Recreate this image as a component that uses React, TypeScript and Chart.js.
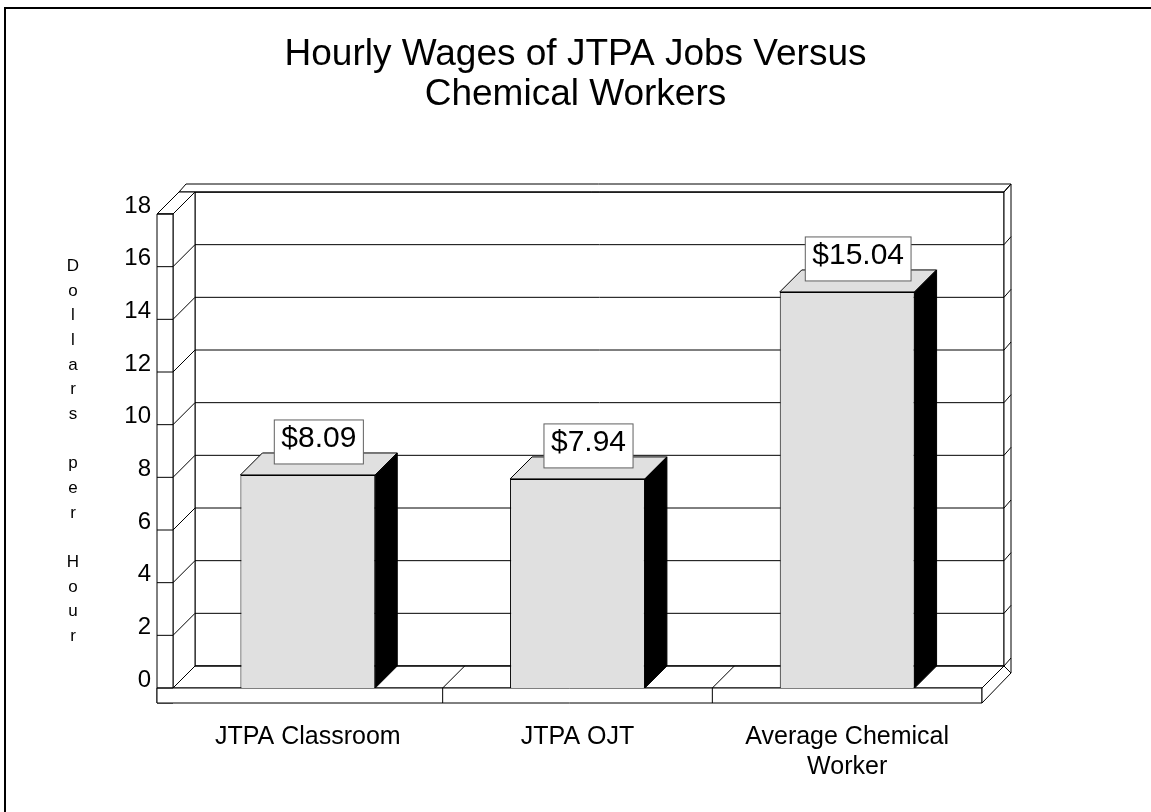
import React, { useEffect, useRef } from "react";
import { Chart, registerables } from "chart.js";

Chart.register(...registerables);

// ---- data ----
const titleLines = ["Hourly Wages of JTPA Jobs Versus", "Chemical Workers"];
const categories: (string | string[])[] = ["JTPA Classroom", "JTPA OJT", ["Average Chemical", "Worker"]];
const wages = [8.09, 7.94, 15.04];
const yTitle = "Dollars per Hour";
const yMin = 0;
const yMax = 18;
const yStep = 2;

// ---- style ----
const FONT = '"Liberation Sans", Arial, Helvetica, sans-serif';
const DEPTH = 22;
const CAP_X = 7;
const CAP_Y = 8;
const SLAB = 16;
const FLOOR = 15;
const BAR_FILL = "#e0e0e0";

type Pt = [number, number];

function poly(ctx: CanvasRenderingContext2D, pts: Pt[], fill?: string, stroke: string = "#000") {
  ctx.beginPath();
  ctx.moveTo(pts[0][0], pts[0][1]);
  for (let i = 1; i < pts.length; i++) ctx.lineTo(pts[i][0], pts[i][1]);
  ctx.closePath();
  if (fill) {
    ctx.fillStyle = fill;
    ctx.fill();
  }
  if (stroke) {
    ctx.strokeStyle = stroke;
    ctx.stroke();
  }
}

function line(ctx: CanvasRenderingContext2D, x1: number, y1: number, x2: number, y2: number) {
  ctx.beginPath();
  ctx.moveTo(x1, y1);
  ctx.lineTo(x2, y2);
  ctx.stroke();
}

const frame3d = {
  id: "frame3d",
  beforeDatasetsDraw(chart: any) {
    const { ctx, chartArea: a } = chart;
    const ys = chart.scales.y;
    const xs = chart.scales.x;
    const L = a.left, R = a.right, T = a.top, B = a.bottom, D = DEPTH;
    ctx.save();
    ctx.lineWidth = 1;
    ctx.strokeStyle = "#000";
    // back wall
    poly(ctx, [[L + D, T - D], [R + D, T - D], [R + D, B - D], [L + D, B - D]], "#fff");
    // top cap of back wall
    poly(ctx, [[L - SLAB + D, T - D], [R + D, T - D], [R + D + CAP_X, T - D - CAP_Y], [L - SLAB + D + CAP_X, T - D - CAP_Y]], "#fff");
    // right edge of back wall
    poly(ctx, [[R + D, T - D], [R + D + CAP_X, T - D - CAP_Y], [R + D + CAP_X, B + FLOOR - D - CAP_Y], [R + D, B - D]], "#fff");
    // left wall inner face
    poly(ctx, [[L, T], [L + D, T - D], [L + D, B - D], [L, B]], "#fff");
    // left slab top
    poly(ctx, [[L - SLAB, T], [L, T], [L + D, T - D], [L - SLAB + D, T - D]], "#fff");
    // left slab front
    poly(ctx, [[L - SLAB, T], [L, T], [L, B + FLOOR], [L - SLAB, B + FLOOR]], "#fff");
    // floor top
    poly(ctx, [[L, B], [R, B], [R + D, B - D], [L + D, B - D]], "#fff");
    // floor front
    poly(ctx, [[L - SLAB, B], [R, B], [R, B + FLOOR], [L - SLAB, B + FLOOR]], "#fff");
    // floor right side
    poly(ctx, [[R, B], [R + D, B - D], [R + D + CAP_X, B + FLOOR - D - CAP_Y], [R, B + FLOOR]], "#fff");
    // grid lines
    for (const t of ys.ticks) {
      const p = ys.getPixelForValue(t.value);
      line(ctx, L - SLAB, p, L, p);
      line(ctx, L, p, L + D, p - D);
      line(ctx, L + D, p - D, R + D, p - D);
      line(ctx, R + D, p - D, R + D + CAP_X, p - D - CAP_Y);
    }
    // category dividers on floor
    for (let i = 1; i < categories.length; i++) {
      const bx = (xs.getPixelForValue(i - 1) + xs.getPixelForValue(i)) / 2;
      line(ctx, bx, B, bx, B + FLOOR);
      line(ctx, bx, B, bx + D, B - D);
    }
    ctx.restore();
  },
  afterDatasetsDraw(chart: any) {
    const { ctx } = chart;
    const D = DEPTH;
    const meta = chart.getDatasetMeta(0);
    ctx.save();
    ctx.lineWidth = 1;
    meta.data.forEach((bar: any, i: number) => {
      const { x, y, base, width } = bar.getProps(["x", "y", "base", "width"], true);
      const l = x - width / 2;
      const r = x + width / 2;
      poly(ctx, [[l, y], [r, y], [r + D, y - D], [l + D, y - D]], BAR_FILL);
      poly(ctx, [[r, y], [r + D, y - D], [r + D, base - D], [r, base]], "#000");
      // value label
      const txt = "$" + wages[i].toFixed(2);
      ctx.font = `30px ${FONT}`;
      const tw = ctx.measureText(txt).width;
      const bw = tw + 14;
      const bh = 44;
      const cx = x + D / 2;
      const bottom = y - D / 2;
      ctx.fillStyle = "#fff";
      ctx.fillRect(cx - bw / 2, bottom - bh, bw, bh);
      ctx.strokeStyle = "#606060";
      ctx.strokeRect(cx - bw / 2, bottom - bh, bw, bh);
      ctx.fillStyle = "#000";
      ctx.textAlign = "center";
      ctx.textBaseline = "alphabetic";
      ctx.fillText(txt, cx, bottom - bh + 27);
    });
    ctx.restore();
  },
  afterDraw(chart: any) {
    const { ctx } = chart;
    ctx.save();
    // chart title, centred on the page
    ctx.font = `37px ${FONT}`;
    ctx.fillStyle = "#000";
    ctx.textAlign = "center";
    ctx.textBaseline = "middle";
    titleLines.forEach((t, i) => ctx.fillText(t, chart.width / 2, 55 + i * 40));
    // stacked y-axis title
    ctx.font = `17px ${FONT}`;
    ctx.textBaseline = "alphabetic";
    const chars = yTitle.split("");
    chars.forEach((ch, i) => {
      if (ch !== " ") ctx.fillText(ch, 73, 271 + i * 24.67);
    });
    // page frame
    ctx.strokeStyle = "#000";
    ctx.lineWidth = 2;
    ctx.beginPath();
    ctx.moveTo(5, chart.height + 2);
    ctx.lineTo(5, 8);
    ctx.lineTo(chart.width + 2, 8);
    ctx.stroke();
    ctx.restore();
  },
};

export default function App() {
  const ref = useRef<HTMLCanvasElement | null>(null);
  useEffect(() => {
    if (!ref.current) return;
    Chart.defaults.font.family = FONT;
    Chart.defaults.color = "#000";
    const chart = new Chart(ref.current, {
      type: "bar",
      data: {
        labels: categories as any,
        datasets: [
          {
            data: wages,
            backgroundColor: BAR_FILL,
            borderColor: "#000",
            borderWidth: 1,
            barPercentage: 0.5,
            categoryPercentage: 1,
          },
        ],
      },
      options: {
        responsive: false,
        maintainAspectRatio: false,
        animation: false,
        layout: { padding: { top: 214, left: 0, right: 169, bottom: 0 } },
        plugins: {
          legend: { display: false },
          tooltip: { enabled: false },
          title: { display: false },
        },
        scales: {
          x: {
            grid: { display: false, drawTicks: false },
            border: { display: false },
            ticks: {
              color: "#000",
              font: { size: 25, lineHeight: 1.2 },
              padding: 34,
              maxRotation: 0,
              autoSkip: false,
            },
            afterFit(s: any) {
              s.height = 124;
            },
          },
          y: {
            min: yMin,
            max: yMax,
            grid: { display: false, drawTicks: false },
            border: { display: false },
            ticks: {
              stepSize: yStep,
              color: "#000",
              font: { size: 24 },
              padding: 22,
              labelOffset: -8,
            },
            afterFit(s: any) {
              s.width = 173;
            },
          },
        },
      },
      plugins: [frame3d],
    } as any);
    return () => chart.destroy();
  }, []);
  return (
    <div style={{ position: "fixed", left: 0, top: 0, width: 1151, height: 812, background: "#fff" }}>
      <canvas ref={ref} width={1151} height={812} />
    </div>
  );
}
